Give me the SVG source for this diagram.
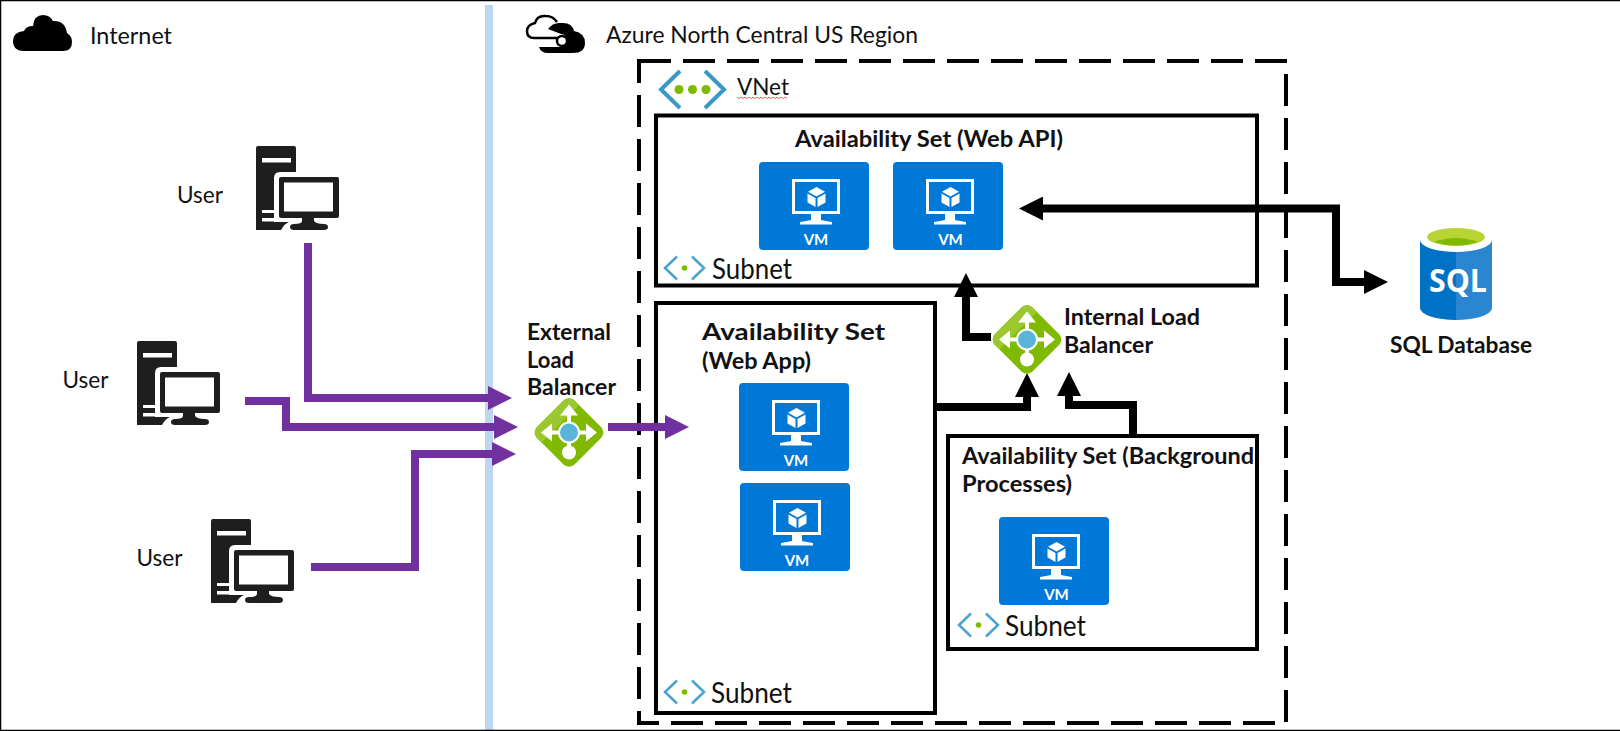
<svg xmlns="http://www.w3.org/2000/svg" width="1620" height="731" viewBox="0 0 1620 731">
<style>
text{font-family:"Lato","Carlito","Liberation Sans",sans-serif;fill:#111;font-size:24px}
.b{font-weight:700;font-size:23px}
.s{font-size:28px}
.box{fill:none;stroke:#000;stroke-width:4}
.d{fill:none;stroke:#000;stroke-width:4;stroke-dasharray:32 12}
.p{fill:none;stroke:#7030a0;stroke-width:8}
.k{fill:none;stroke:#000;stroke-width:8}
text.vmt{fill:#fff;font-weight:700;font-size:15px;text-anchor:middle}
</style>
<defs>
<marker id="ap" markerUnits="userSpaceOnUse" markerWidth="24" markerHeight="24" refX="0" refY="12" orient="auto-start-reverse"><path d="M0 0L24 12L0 24Z" fill="#7030a0"/></marker>
<marker id="ak" markerUnits="userSpaceOnUse" markerWidth="24" markerHeight="24" refX="0" refY="12" orient="auto-start-reverse"><path d="M0 0L24 12L0 24Z" fill="#000"/></marker>
<g id="pc">
<path d="M2 0H38a2 2 0 0 1 2 2V26H24q-6 0-6 6V76H33q-5 2-8 8H0V2a2 2 0 0 1 2-2Z" fill="#1e1e1e"/>
<rect x="6" y="12" width="29" height="4.500" fill="#fff"/>
<rect x="6" y="64" width="13" height="3" fill="#fff"/>
<rect x="6" y="72" width="13" height="3.500" fill="#fff"/>
<rect x="23" y="31" width="60" height="41" rx="2" fill="#1e1e1e"/>
<rect x="28" y="36.500" width="49" height="29" fill="#fff"/>
<path d="M46 71h12v4q2 3 10 3q4 0 4 3q0 3-4 3H38q-4 0-4-3q0-3 4-3q8 0 8-3Z" fill="#1e1e1e"/>
</g>
<g id="vmbox">
<rect width="110" height="88" rx="4" fill="#0078d7"/>
<rect x="34.500" y="18.500" width="45" height="32" fill="none" stroke="#fff" stroke-width="3"/>
<path d="M52 52h10v6q5 1 11 2v2.500H41V60q6-1 11-2Z" fill="#fff"/>
<path d="M57.500 25l8.500 4.800l-8.500 4.800l-8.500-4.800Z" fill="#fff"/>
<path d="M48.500 31.500l8 4.500v9l-8-4.500Z" fill="#fff"/>
<path d="M66.500 31.500l-8 4.500v9l8-4.500Z" fill="#fff"/>
</g>
<g id="lb">
<path d="M-5 -32.500Q0 -36 5 -32.500L32.500 -5Q36 0 32.500 5L5 32.500Q0 36 -5 32.500L-32.500 5Q-36 0 -32.500 -5Z" fill="#7fba00"/>
<path d="M-5 -32.500Q0 -36 5 -32.500L10 -27.500L-27.500 10L-32.500 5Q-36 0 -32.500 -5Z" fill="#9ac82e"/>
<path d="M0 -25V14M-23 0H23" stroke="#fff" stroke-width="4" fill="none"/>
<path d="M0 -28L9 -17H-9ZM-28 0L-17 -9V9ZM28 0L17 -9V9Z" fill="#fff"/>
<circle cx="0" cy="20" r="7" fill="#fff"/>
<circle r="10" cx="0" cy="0" fill="#59b4d9" stroke="#fff" stroke-width="2"/>
</g>
<g id="subi">
<path d="M14 0.500L2 12L14 23.500M29 0.500L41 12L29 23.500" fill="none" stroke="#4aa3d0" stroke-width="2.500"/>
<circle cx="21.500" cy="12" r="2.800" fill="#7fba00"/>
</g>
</defs>
<rect width="1620" height="731" fill="#fff"/>
<rect x="485" y="5" width="8" height="726" fill="#bdd7ee"/>
<path d="M0.500 731V0.500H1620M0 730.500H1620" fill="none" stroke="#000" stroke-width="1.500"/>

<g id="internet">
<path d="M24 51Q13 51 13 41Q13 32 24 31Q26 26 33 26Q34 15 43 15Q50 15 53 21Q65 20 67 33Q72 36 72 42Q72 51 63 51Z" fill="#000"/>
<text x="90" y="44" textLength="82" lengthAdjust="spacingAndGlyphs">Internet</text>
</g>
<g id="azure-region">
<path d="M557 22Q553 16 546 16Q537 15 535 23Q527 25 527 31Q527 38 534 38H557" fill="none" stroke="#000" stroke-width="2.500"/>
<path d="M548 29Q553 22 561 23Q572 22 574 31Q585 33 585 43Q585 53 573 53H548Q541 53 539 47H561A6 6 0 0 0 561 34Z" fill="#000"/>
<circle cx="562" cy="41" r="5" fill="#fff" stroke="#000" stroke-width="2.500"/>
<text x="606" y="42.500" textLength="312" lengthAdjust="spacingAndGlyphs">Azure North Central US Region</text>
</g>
<g id="vnet">
<path class="d" d="M639 61H1288"/>
<path class="d" style="stroke-dashoffset:8" d="M639 59V725"/>
<path class="d" d="M1286 74V722"/>
<path class="d" style="stroke-dashoffset:10" d="M637 723H1275"/>
<path d="M680 71L661 89.500L680 108M705 71L724 89.500L705 108" fill="none" stroke="#3999c6" stroke-width="4"/>
<circle cx="679" cy="89.500" r="4.500" fill="#7fba00"/><circle cx="692.500" cy="89.500" r="4.500" fill="#7fba00"/><circle cx="706" cy="89.500" r="4.500" fill="#7fba00"/>
<text x="737" y="95" textLength="52" lengthAdjust="spacingAndGlyphs">VNet</text>
<path d="M737 97l2 1.500l2-1.500l2 1.500l2-1.500l2 1.500l2-1.500l2 1.500l2-1.500l2 1.500l2-1.500l2 1.500l2-1.500l2 1.500l2-1.500l2 1.500l2-1.500l2 1.500l2-1.500l2 1.500l2-1.500l2 1.500l2-1.500l2 1.500l2-1.500l2 1.500" fill="none" stroke="#e33" stroke-width="0.800"/>
</g>

<g id="as-webapi">
<rect class="box" x="656" y="115.500" width="601" height="170"/>
<text class="b" x="795" y="147" textLength="268" lengthAdjust="spacingAndGlyphs">Availability Set (Web API)</text>
<use href="#subi" x="663" y="256"/>
<text class="s" x="712" y="279" textLength="80" lengthAdjust="spacingAndGlyphs">Subnet</text>
</g>
<g id="vm-api-1"><use href="#vmbox" x="759" y="162"/><text class="vmt" x="816" y="245">VM</text></g>
<g id="vm-api-2"><use href="#vmbox" x="893" y="162"/><text class="vmt" x="950.500" y="245">VM</text></g>

<g id="as-webapp">
<rect class="box" x="656" y="303" width="279" height="410"/>
<text class="b" x="702" y="339.500" textLength="183" lengthAdjust="spacingAndGlyphs">Availability Set</text>
<text class="b" x="702" y="368.500" textLength="109" lengthAdjust="spacingAndGlyphs">(Web App)</text>
<use href="#subi" x="663" y="680"/>
<text class="s" x="711" y="703" textLength="81" lengthAdjust="spacingAndGlyphs">Subnet</text>
</g>
<g id="vm-app-1"><use href="#vmbox" x="739" y="383"/><text class="vmt" x="796" y="466">VM</text></g>
<g id="vm-app-2"><use href="#vmbox" x="740" y="483"/><text class="vmt" x="797" y="566">VM</text></g>

<g id="as-bg">
<rect class="box" x="948" y="436" width="309" height="213"/>
<text class="b" x="962" y="464" textLength="292" lengthAdjust="spacingAndGlyphs">Availability Set (Background</text>
<text class="b" x="962" y="492" textLength="110" lengthAdjust="spacingAndGlyphs">Processes)</text>
<use href="#subi" x="957" y="613"/>
<text class="s" x="1005" y="636" textLength="81" lengthAdjust="spacingAndGlyphs">Subnet</text>
</g>
<g id="vm-bg"><use href="#vmbox" x="999" y="517"/><text class="vmt" x="1056.500" y="600">VM</text></g>

<g id="connectors">
<path class="p" marker-end="url(#ap)" d="M308 243V398H488"/>
<path class="p" marker-end="url(#ap)" d="M245 401H286V427H494"/>
<path class="p" marker-end="url(#ap)" d="M311 567H415V454H492"/>
<path class="p" marker-end="url(#ap)" d="M608 427H665"/>
<path class="k" marker-end="url(#ak)" d="M991 337H966V297"/>
<path class="k" marker-end="url(#ak)" d="M935 407H1027V397"/>
<path class="k" marker-end="url(#ak)" d="M1133 438V405H1069V396"/>
<path class="k" marker-start="url(#ak)" marker-end="url(#ak)" d="M1043 208.500H1336V282H1364"/>
</g>

<g id="user-1"><use href="#pc" x="256" y="146"/><text x="177" y="203" textLength="46" lengthAdjust="spacingAndGlyphs">User</text></g>
<g id="user-2"><use href="#pc" x="137" y="341"/><text x="62.500" y="388" textLength="46" lengthAdjust="spacingAndGlyphs">User</text></g>
<g id="user-3"><use href="#pc" x="211" y="519"/><text x="136.500" y="566" textLength="46" lengthAdjust="spacingAndGlyphs">User</text></g>

<g id="external-lb">
<use href="#lb" x="569" y="432.500"/>
<text class="b" x="527" y="340" textLength="84" lengthAdjust="spacingAndGlyphs">External</text>
<text class="b" x="527" y="368" textLength="47" lengthAdjust="spacingAndGlyphs">Load</text>
<text class="b" x="527" y="395" textLength="89" lengthAdjust="spacingAndGlyphs">Balancer</text>
</g>
<g id="internal-lb">
<use href="#lb" x="1027" y="339.500"/>
<text class="b" x="1064" y="325" textLength="136" lengthAdjust="spacingAndGlyphs">Internal Load</text>
<text class="b" x="1064" y="353" textLength="89" lengthAdjust="spacingAndGlyphs">Balancer</text>
</g>
<g id="sql-database">
<path d="M1420 240V308A36 12 0 0 0 1456 320V240Z" fill="#0072c6"/>
<path d="M1492 240V308A36 12 0 0 1 1456 320V240Z" fill="#2a86d0"/>
<ellipse cx="1456" cy="240" rx="36" ry="12" fill="#fff"/>
<ellipse cx="1456" cy="237" rx="29" ry="9" fill="#b8d432"/>
<path d="M1434 242Q1456 234 1478 242Q1456 249 1434 242Z" fill="#7fba00"/>
<text x="1429" y="292" style="font-size:32px;font-weight:700;fill:#fff;font-family:'Open Sans',sans-serif" textLength="58" lengthAdjust="spacingAndGlyphs">SQL</text>
<text class="b" x="1390" y="352.500" textLength="142" lengthAdjust="spacingAndGlyphs">SQL Database</text>
</g>
</svg>
